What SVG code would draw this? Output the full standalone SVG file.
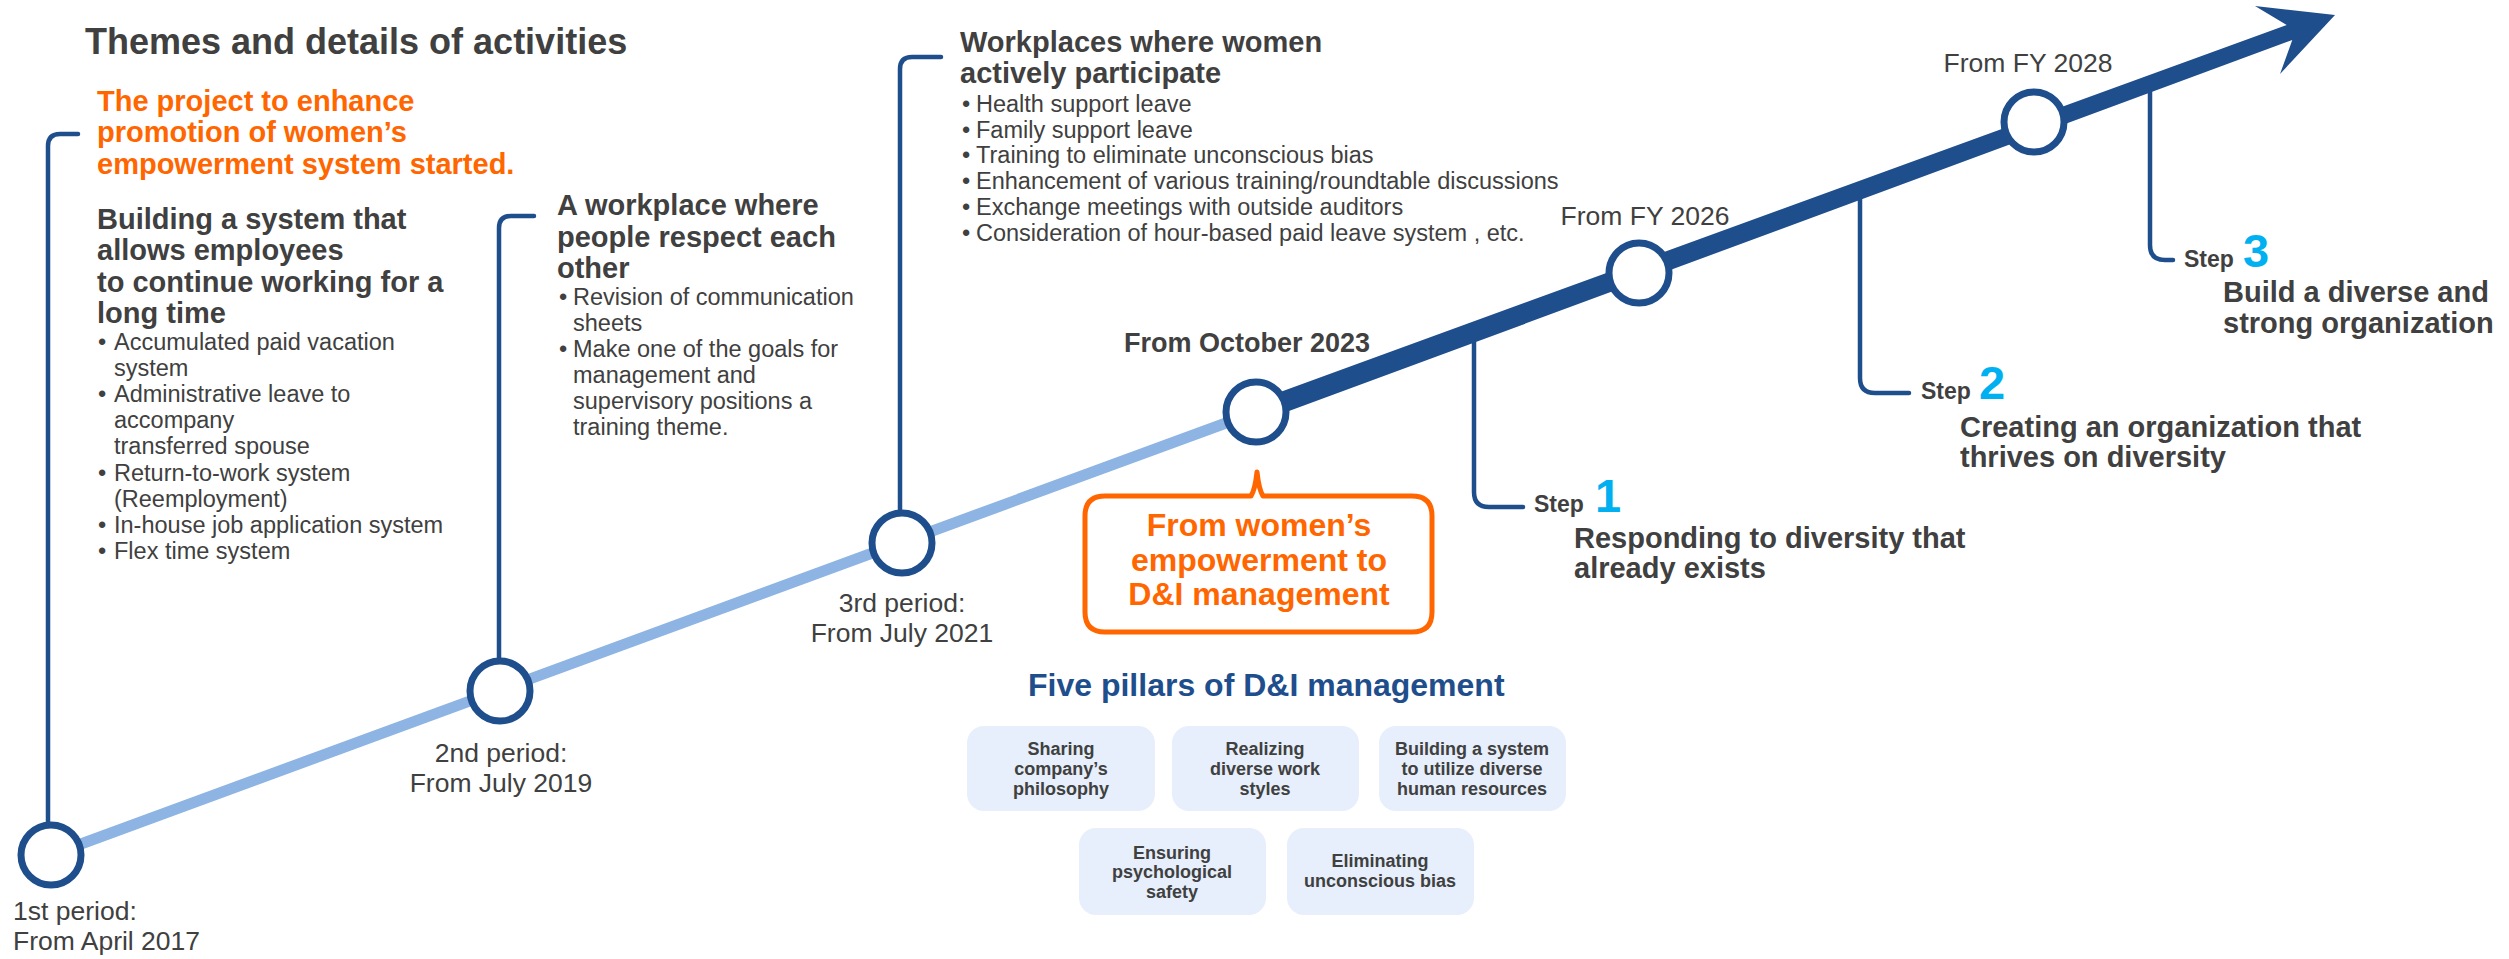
<svg xmlns="http://www.w3.org/2000/svg" width="2509" height="959" viewBox="0 0 2509 959">
<defs>
<style>
text { font-family: "Liberation Sans", Arial, sans-serif; fill: #404040; }
.title { font-size: 36px; font-weight: bold; }
.head { font-size: 29px; font-weight: bold; }
.orange { fill: #ff6600; }
.item { font-size: 23.5px; }
.period { font-size: 26.5px; }
.mid { text-anchor: middle; }
.step { font-size: 23px; font-weight: bold; }
.num { font-size: 47px; font-weight: bold; fill: #00b0f0; }
.callout-text { font-size: 32px; font-weight: bold; fill: #ff6600; text-anchor: middle; }
.pillars-title { font-size: 32px; font-weight: bold; fill: #1f4e8c; }
.pillar rect { fill: #e6effb; }
.pillar text { font-size: 18px; font-weight: bold; text-anchor: middle; }
.ms { fill: #ffffff; stroke: #1f4e8c; stroke-width: 7; }
.lead { fill: none; stroke: #1f4e8c; stroke-width: 4.5; stroke-linecap: round; }
</style>
</defs>
<rect width="2509" height="959" fill="#ffffff"/>

<!-- timeline, brackets and step leaders -->
<g id="connectors">
  <path class="lead" d="M78,134 H60 Q48,134 48,146 V830"/>
  <path class="lead" d="M534,216 H511 Q499,216 499,228 V670"/>
  <path class="lead" d="M941,57 H912 Q900,57 900,69 V520"/>
  <path class="lead" d="M1474,332 V492 Q1474,507 1489,507 H1523"/>
  <path class="lead" d="M1860,190 V378 Q1860,393 1875,393 H1909"/>
  <path class="lead" d="M2150,84 V245 Q2150,260 2165,260 H2173"/>
  <!-- past periods -->
  <line x1="51" y1="855" x2="1256" y2="412" stroke="#8db4e2" stroke-width="11"/>
  <!-- future: tapering shaft with swept arrowhead -->
  <path d="M1252.4,402.1 L2286.7,25 L2255,6 L2335,15 L2280,74 L2292.3,40 L1259.6,421.9 Z" fill="#1f4e8c"/>
</g>

<g id="title">
  <text class="title" x="85" y="54">Themes and details of activities</text>
</g>

<g id="block-2017">
  <text class="head orange"><tspan x="97" y="111">The project to enhance</tspan><tspan x="97" y="142">promotion of women’s</tspan><tspan x="97" y="174">empowerment system started.</tspan></text>
  <text class="head"><tspan x="97" y="229">Building a system that</tspan><tspan x="97" y="260">allows employees</tspan><tspan x="97" y="292">to continue working for a</tspan><tspan x="97" y="323">long time</tspan></text>
  <text class="item"><tspan x="98" y="350">•</tspan><tspan x="114" y="350">Accumulated paid vacation</tspan><tspan x="114" y="376">system</tspan><tspan x="98" y="402">•</tspan><tspan x="114" y="402">Administrative leave to</tspan><tspan x="114" y="428">accompany</tspan><tspan x="114" y="454">transferred spouse</tspan><tspan x="98" y="481">•</tspan><tspan x="114" y="481">Return-to-work system</tspan><tspan x="114" y="507">(Reemployment)</tspan><tspan x="98" y="533">•</tspan><tspan x="114" y="533">In-house job application system</tspan><tspan x="98" y="559">•</tspan><tspan x="114" y="559">Flex time system</tspan></text>
</g>

<g id="block-2019">
  <text class="head"><tspan x="557" y="215">A workplace where</tspan><tspan x="557" y="247">people respect each</tspan><tspan x="557" y="278">other</tspan></text>
  <text class="item"><tspan x="559" y="305">•</tspan><tspan x="573" y="305">Revision of communication</tspan><tspan x="573" y="331">sheets</tspan><tspan x="559" y="357">•</tspan><tspan x="573" y="357">Make one of the goals for</tspan><tspan x="573" y="383">management and</tspan><tspan x="573" y="409">supervisory positions a</tspan><tspan x="573" y="435">training theme.</tspan></text>
</g>

<g id="block-2021">
  <text class="head"><tspan x="960" y="52">Workplaces where women</tspan><tspan x="960" y="83">actively participate</tspan></text>
  <text class="item"><tspan x="962" y="112">•</tspan><tspan x="976" y="112">Health support leave</tspan><tspan x="962" y="138">•</tspan><tspan x="976" y="138">Family support leave</tspan><tspan x="962" y="163">•</tspan><tspan x="976" y="163">Training to eliminate unconscious bias</tspan><tspan x="962" y="189">•</tspan><tspan x="976" y="189">Enhancement of various training/roundtable discussions</tspan><tspan x="962" y="215">•</tspan><tspan x="976" y="215">Exchange meetings with outside auditors</tspan><tspan x="962" y="241">•</tspan><tspan x="976" y="241">Consideration of hour-based paid leave system , etc.</tspan></text>
</g>

<g id="milestone-2017">
  <circle class="ms" cx="51" cy="855" r="30"/>
  <text class="period"><tspan x="13" y="920">1st period:</tspan><tspan x="13" y="950">From April 2017</tspan></text>
</g>
<g id="milestone-2019">
  <circle class="ms" cx="500" cy="691" r="30"/>
  <text class="period mid"><tspan x="501" y="762">2nd period:</tspan><tspan x="501" y="792">From July 2019</tspan></text>
</g>
<g id="milestone-2021">
  <circle class="ms" cx="902" cy="543" r="30"/>
  <text class="period mid"><tspan x="902" y="612">3rd period:</tspan><tspan x="902" y="642">From July 2021</tspan></text>
</g>
<g id="milestone-2023">
  <circle class="ms" cx="1256" cy="412" r="30"/>
  <text class="mid" x="1247" y="352" font-size="27" font-weight="bold">From October 2023</text>
</g>
<g id="milestone-2026">
  <circle class="ms" cx="1639" cy="273" r="30"/>
  <text class="period mid" x="1645" y="225">From FY 2026</text>
</g>
<g id="milestone-2028">
  <circle class="ms" cx="2034" cy="122" r="30"/>
  <text class="period mid" x="2028" y="72">From FY 2028</text>
</g>

<g id="callout">
  <path d="M1105,496 H1251 Q1255,490 1257,472 Q1259,490 1263,496 H1412 Q1432,496 1432,516 V612 Q1432,632 1412,632 H1105 Q1085,632 1085,612 V516 Q1085,496 1105,496 Z" fill="#ffffff" stroke="#ff6600" stroke-width="5" stroke-linejoin="round"/>
  <text class="callout-text"><tspan x="1259" y="536">From women’s</tspan><tspan x="1259" y="571">empowerment to</tspan><tspan x="1259" y="605">D&amp;I management</tspan></text>
</g>

<g id="pillars-title">
  <text class="pillars-title" x="1028" y="696">Five pillars of D&amp;I management</text>
</g>
<g id="pillar-philosophy" class="pillar">
  <rect x="967" y="726" width="188" height="85" rx="17"/>
  <text><tspan x="1061" y="755">Sharing</tspan><tspan x="1061" y="775">company’s</tspan><tspan x="1061" y="795">philosophy</tspan></text>
</g>
<g id="pillar-work-styles" class="pillar">
  <rect x="1172" y="726" width="187" height="85" rx="17"/>
  <text><tspan x="1265" y="755">Realizing</tspan><tspan x="1265" y="775">diverse work</tspan><tspan x="1265" y="795">styles</tspan></text>
</g>
<g id="pillar-human-resources" class="pillar">
  <rect x="1379" y="726" width="187" height="85" rx="17"/>
  <text><tspan x="1472" y="755">Building a system</tspan><tspan x="1472" y="775">to utilize diverse</tspan><tspan x="1472" y="795">human resources</tspan></text>
</g>
<g id="pillar-safety" class="pillar">
  <rect x="1079" y="828" width="187" height="87" rx="17"/>
  <text><tspan x="1172" y="859">Ensuring</tspan><tspan x="1172" y="878">psychological</tspan><tspan x="1172" y="898">safety</tspan></text>
</g>
<g id="pillar-bias" class="pillar">
  <rect x="1287" y="828" width="187" height="87" rx="17"/>
  <text><tspan x="1380" y="867">Eliminating</tspan><tspan x="1380" y="887">unconscious bias</tspan></text>
</g>

<g id="step-1">
  <text class="step" x="1534" y="512">Step</text>
  <text class="num" x="1595" y="512">1</text>
  <text class="head"><tspan x="1574" y="548">Responding to diversity that</tspan><tspan x="1574" y="578">already exists</tspan></text>
</g>
<g id="step-2">
  <text class="step" x="1921" y="399">Step</text>
  <text class="num" x="1979" y="399">2</text>
  <text class="head"><tspan x="1960" y="437">Creating an organization that</tspan><tspan x="1960" y="467">thrives on diversity</tspan></text>
</g>
<g id="step-3">
  <text class="step" x="2184" y="267">Step</text>
  <text class="num" x="2243" y="267">3</text>
  <text class="head"><tspan x="2223" y="302">Build a diverse and</tspan><tspan x="2223" y="333">strong organization</tspan></text>
</g>
</svg>
